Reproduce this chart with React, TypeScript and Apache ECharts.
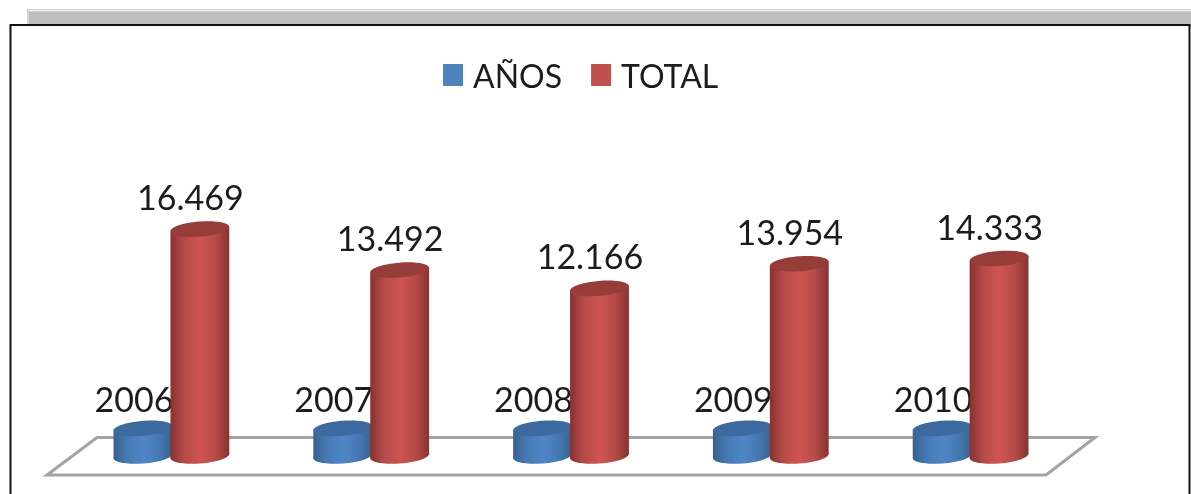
import React, { useEffect, useRef } from "react";
import * as echarts from "echarts";

const categories = ["2006", "2007", "2008", "2009", "2010"];
const anosValues = [2006, 2007, 2008, 2009, 2010];
const totalValues = [16469, 13492, 12166, 13954, 14333];

const FONT = "Lato, 'Noto Sans', sans-serif";
const SLANT = 0.08;

const fmt = (v: number, sep: boolean) =>
  sep ? `${Math.floor(v / 1000)}.${String(v % 1000).padStart(3, "0")}` : String(v);

function cylinder(
  offsetShare: number,
  colors: { edge: string; soft: string; mid: string; top: string },
  labelDx: number,
  labelDy: number,
  sep: boolean
) {
  return (_params: any, api: any) => {
    const rx = 29.5;
    const ry = 7.5;
    const value = api.value(1);
    const band = api.size([1, 0])[0];
    const top = api.coord([api.value(0), value]);
    const base = api.coord([api.value(0), 0]);
    const cx = top[0] + band * offsetShare;
    const dx = rx * Math.cos(SLANT);
    const dy = rx * Math.sin(SLANT);
    const grad = new echarts.graphic.LinearGradient(0, 0, 1, 0, [
      { offset: 0, color: colors.edge },
      { offset: 0.22, color: colors.soft },
      { offset: 0.5, color: colors.mid },
      { offset: 0.78, color: colors.soft },
      { offset: 1, color: colors.edge },
    ]);
    return {
      type: "group",
      children: [
        {
          type: "text",
          style: {
            text: fmt(value, sep),
            x: cx + labelDx,
            y: top[1] + labelDy,
            align: "center",
            verticalAlign: "middle",
            fontFamily: FONT,
            fontSize: 34,
            fill: "#1c1c1c",
          },
        },
        {
          type: "ellipse",
          x: cx,
          y: base[1],
          rotation: SLANT,
          shape: { cx: 0, cy: 0, rx, ry },
          style: { fill: grad },
        },
        {
          type: "polygon",
          shape: {
            points: [
              [cx - dx, top[1] + dy],
              [cx + dx, top[1] - dy],
              [cx + dx, base[1] - dy],
              [cx - dx, base[1] + dy],
            ],
          },
          style: { fill: grad },
        },
        {
          type: "ellipse",
          x: cx,
          y: top[1],
          rotation: SLANT,
          shape: { cx: 0, cy: 0, rx, ry },
          style: { fill: colors.top },
        },
      ],
    };
  };
}

export default function App() {
  const ref = useRef<HTMLDivElement>(null);
  useEffect(() => {
    const chart = echarts.init(ref.current!, undefined, { renderer: "svg" });
    chart.setOption({
      animation: false,
      backgroundColor: "#ffffff",
      grid: { left: 71.5, width: 999, top: 208, bottom: 38 },
      xAxis: { type: "category", data: categories, show: false },
      yAxis: { type: "value", min: 0, max: 18000, show: false },
      legend: {
        left: 438,
        top: 54,
        icon: "rect",
        itemWidth: 20,
        itemHeight: 22,
        itemGap: 29,
        textStyle: { fontFamily: FONT, fontSize: 32, color: "#1c1c1c", padding: [0, 0, 0, 5] },
        data: [
          { name: "AÑOS", itemStyle: { color: "#4f81bd" } },
          { name: "TOTAL", itemStyle: { color: "#c0504d" } },
        ],
      },
      graphic: [
        { type: "rect", z: 0, shape: { x: 27, y: 9, width: 1170, height: 18 }, style: { fill: "#d2d2d2" } },
        { type: "rect", z: 0, shape: { x: 29, y: 10, width: 1170, height: 1.5 }, style: { fill: "#f0f0f0" } },
        { type: "rect", z: 0, shape: { x: 29, y: 11.5, width: 1170, height: 15 }, style: { fill: "#bdbdbd" } },
        { type: "rect", z: 1, shape: { x: 10.5, y: 25, width: 1179, height: 480 }, style: { fill: "#ffffff", stroke: "#111111", lineWidth: 2 } },
        {
          type: "polygon",
          z: 1,
          shape: { points: [[47, 475], [97, 437.5], [1095, 437.5], [1046, 475]] },
          style: { fill: "#ffffff", stroke: "#a3a3a3", lineWidth: 3 },
        },
      ],
      series: [
        {
          type: "custom",
          name: "AÑOS",
          z: 3,
          coordinateSystem: "cartesian2d",
          encode: { x: 0, y: 1 },
          itemStyle: { color: "#4f81bd" },
          renderItem: cylinder(-0.1425, { edge: "#36628f", soft: "#4577b2", mid: "#5086c6", top: "#3d6a9e" }, -9, -30, false),
          data: anosValues.map((v, i) => [i, v]),
        },
        {
          type: "custom",
          name: "TOTAL",
          z: 4,
          coordinateSystem: "cartesian2d",
          encode: { x: 0, y: 1 },
          itemStyle: { color: "#c0504d" },
          renderItem: cylinder(0.1425, { edge: "#863230", soft: "#b34a47", mid: "#cf5552", top: "#963d3a" }, -9.5, -32.5, true),
          data: totalValues.map((v, i) => [i, v]),
        },
      ],
    });
    return () => chart.dispose();
  }, []);
  return (
    <div
      ref={ref}
      style={{ position: "absolute", left: 0, top: 0, width: 1191, height: 494, filter: "blur(0.6px)" }}
    />
  );
}
